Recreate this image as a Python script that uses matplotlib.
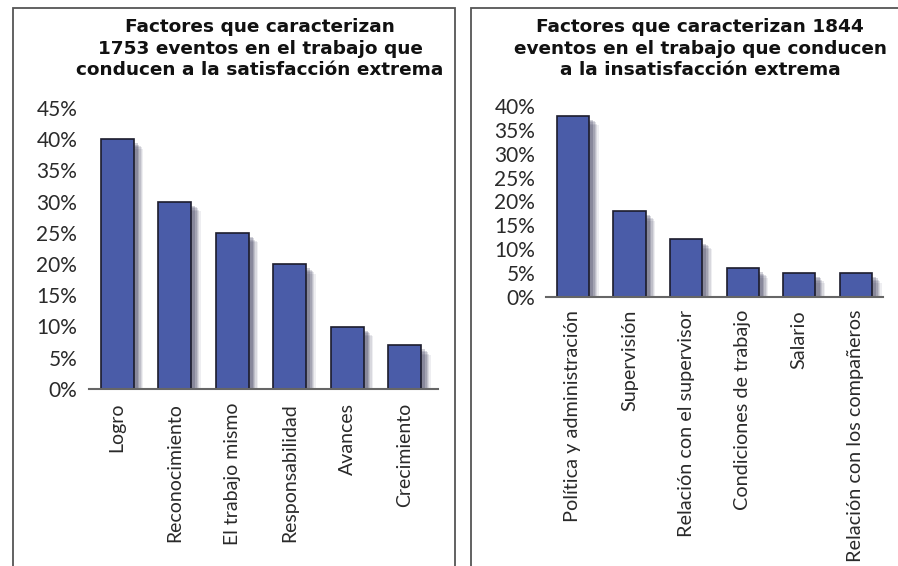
import matplotlib
matplotlib.use("Agg")
import matplotlib.pyplot as plt
import matplotlib.patheffects as pe
from matplotlib.patches import Rectangle

plt.rcParams['font.family'] = ['Lato', 'DejaVu Sans']

# --- data ---
sat_labels = ["Logro", "Reconocimiento", "El trabajo mismo", "Responsabilidad",
              "Avances", "Crecimiento"]
sat_values = [40, 30, 25, 20, 10, 7]
sat_ticks = [0, 5, 10, 15, 20, 25, 30, 35, 40, 45]
sat_title = "Factores que caracterizan\n1753 eventos en el trabajo que\nconducen a la satisfacción extrema"

ins_labels = ["Política y administración", "Supervisión", "Relación con el supervisor",
              "Condiciones de trabajo", "Salario", "Relación con los compañeros"]
ins_values = [38, 18, 12, 6, 5, 5]
ins_ticks = [0, 5, 10, 15, 20, 25, 30, 35, 40]
ins_title = "Factores que caracterizan 1844\neventos en el trabajo que conducen\na la insatisfacción extrema"

BAR = '#4a5ca8'
EDGE = '#1c1c2c'
TXT = '#2a2a2a'

W, H = 898, 566
fig = plt.figure(figsize=(W / 100, H / 100), dpi=100)

# panel frames
for x0, x1 in [(13, 455), (471, 905)]:
    fig.patches.append(Rectangle((x0 / W, -0.05), (x1 - x0) / W, 1.05 - 8 / H,
                                 transform=fig.transFigure, fill=False,
                                 edgecolor='#555555', linewidth=1.3))

# soft drop shadow built from a few offset copies
shadow = [pe.SimplePatchShadow(offset=(o, -o), shadow_rgbFace='#1a1a40', alpha=a)
          for o, a in [(7, 0.07), (6, 0.1), (5, 0.13), (4, 0.16), (3, 0.2)]] + [pe.Normal()]


def draw(ax, labels, values, ticks, xlim, ylim, yfs, xfs, ypad, xpad):
    x = list(range(len(values)))
    bars = ax.bar(x, values, width=0.57, color=BAR, edgecolor=EDGE, linewidth=1.2, zorder=3)
    for b in bars:
        b.set_path_effects(shadow)
    ax.set_xlim(*xlim)
    ax.set_ylim(*ylim)
    ax.set_yticks(ticks)
    ax.set_yticklabels([f"{t}%" for t in ticks], fontsize=yfs, color=TXT)
    ax.set_xticks(x)
    ax.set_xticklabels(labels, rotation=90, fontsize=xfs, color=TXT, va='top')
    ax.tick_params(axis='y', length=0, pad=ypad)
    ax.tick_params(axis='x', length=0, pad=xpad)
    for s in ['left', 'right', 'top']:
        ax.spines[s].set_visible(False)
    ax.spines['bottom'].set_color('#666666')
    ax.spines['bottom'].set_linewidth(1.5)
    ax.spines['bottom'].set_zorder(4)
    ax.patch.set_alpha(0)


ax1 = fig.add_axes([89 / W, (H - 389) / H, 349 / W, 281.25 / H])
draw(ax1, sat_labels, sat_values, sat_ticks, (-0.49, 5.58), (0, 45), 15, 14, 8.5, 10)

ax2 = fig.add_axes([545.7 / W, (H - 296.7) / H, 337.3 / W, 190.7 / H])
draw(ax2, ins_labels, ins_values, ins_ticks, (-0.48, 5.48), (0, 40), 15, 14.3, 7.5, 9.5)

tkw = dict(ha='center', va='center', fontsize=13.3, fontweight='bold',
           color='#111111', linespacing=1.22, family='DejaVu Sans')
fig.text(260 / W, 1 - 48.5 / H, sat_title, **tkw)
fig.text(700 / W, 1 - 48.5 / H, ins_title, **tkw)

fig.savefig("out.png", dpi=100, facecolor='white')
